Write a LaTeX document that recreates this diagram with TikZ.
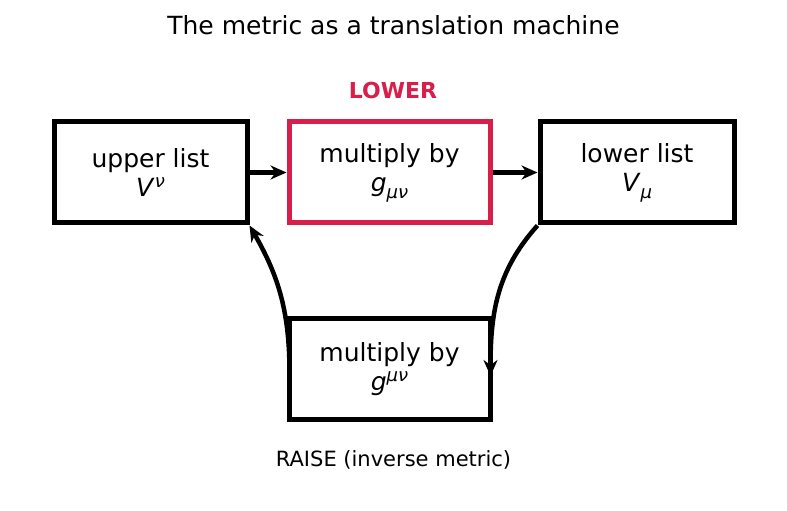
\documentclass[tikz,border=0pt]{standalone}
\usepackage{fontspec}
\setmainfont{DejaVu Sans}
\usetikzlibrary{arrows.meta}
\definecolor{Crimson}{HTML}{D81F4B}
\newcommand\upidx[2]{\textit{#1}\raisebox{.36em}{\fontsize{18}{18}\selectfont\textit{#2}}}
\newcommand\loidx[2]{\textit{#1}\raisebox{-.28em}{\fontsize{18}{18}\selectfont\textit{#2}}}
\tikzset{listbox/.style={draw=black,line width=5pt,minimum height=101pt,align=center,inner sep=0pt,font=\fontsize{25}{29}\selectfont},metricbox/.style={listbox,minimum width=201pt},flow/.style={-{Stealth[length=16pt,width=14pt]},line width=4.5pt}}
\begin{document}
\begin{tikzpicture}[x=1pt,y=1pt]
  \useasboundingbox (0,0) rectangle (787,511);
  \node[font=\fontsize{25}{30}\selectfont](title) at (393.5,486){The metric as a translation machine};
  \node[listbox,minimum width=193pt](up) at (150.5,338.5){upper list\\\upidx{V}{ν}};
  \node[metricbox,draw=Crimson](low) at (389.5,338.5){multiply by\\\loidx{g}{μν}};
  \node[listbox,minimum width=194pt](down) at (637,338.5){lower list\\\loidx{V}{μ}};
  \node[metricbox](raise) at (389.5,142){multiply by\\\upidx{g}{μν}};
  \node[font=\bfseries\fontsize{22}{26}\selectfont,text=Crimson] at (393,421){LOWER};
  \node[font=\fontsize{21}{25}\selectfont] at (393.5,51){RAISE (inverse metric)};
  \coordinate (rin) at ([xshift=-2pt,yshift=-7pt]raise.east);
  \coordinate (rout) at ([xshift=3pt,yshift=-4pt]raise.west);
  \draw[flow](up)--(low);\draw[flow](low)--(down);
  \draw[flow](down.south west) to[out=-132,in=90] (rin);
  \draw[flow](rout) to[out=90,in=-60] (up.south east);
\end{tikzpicture}
\end{document}
